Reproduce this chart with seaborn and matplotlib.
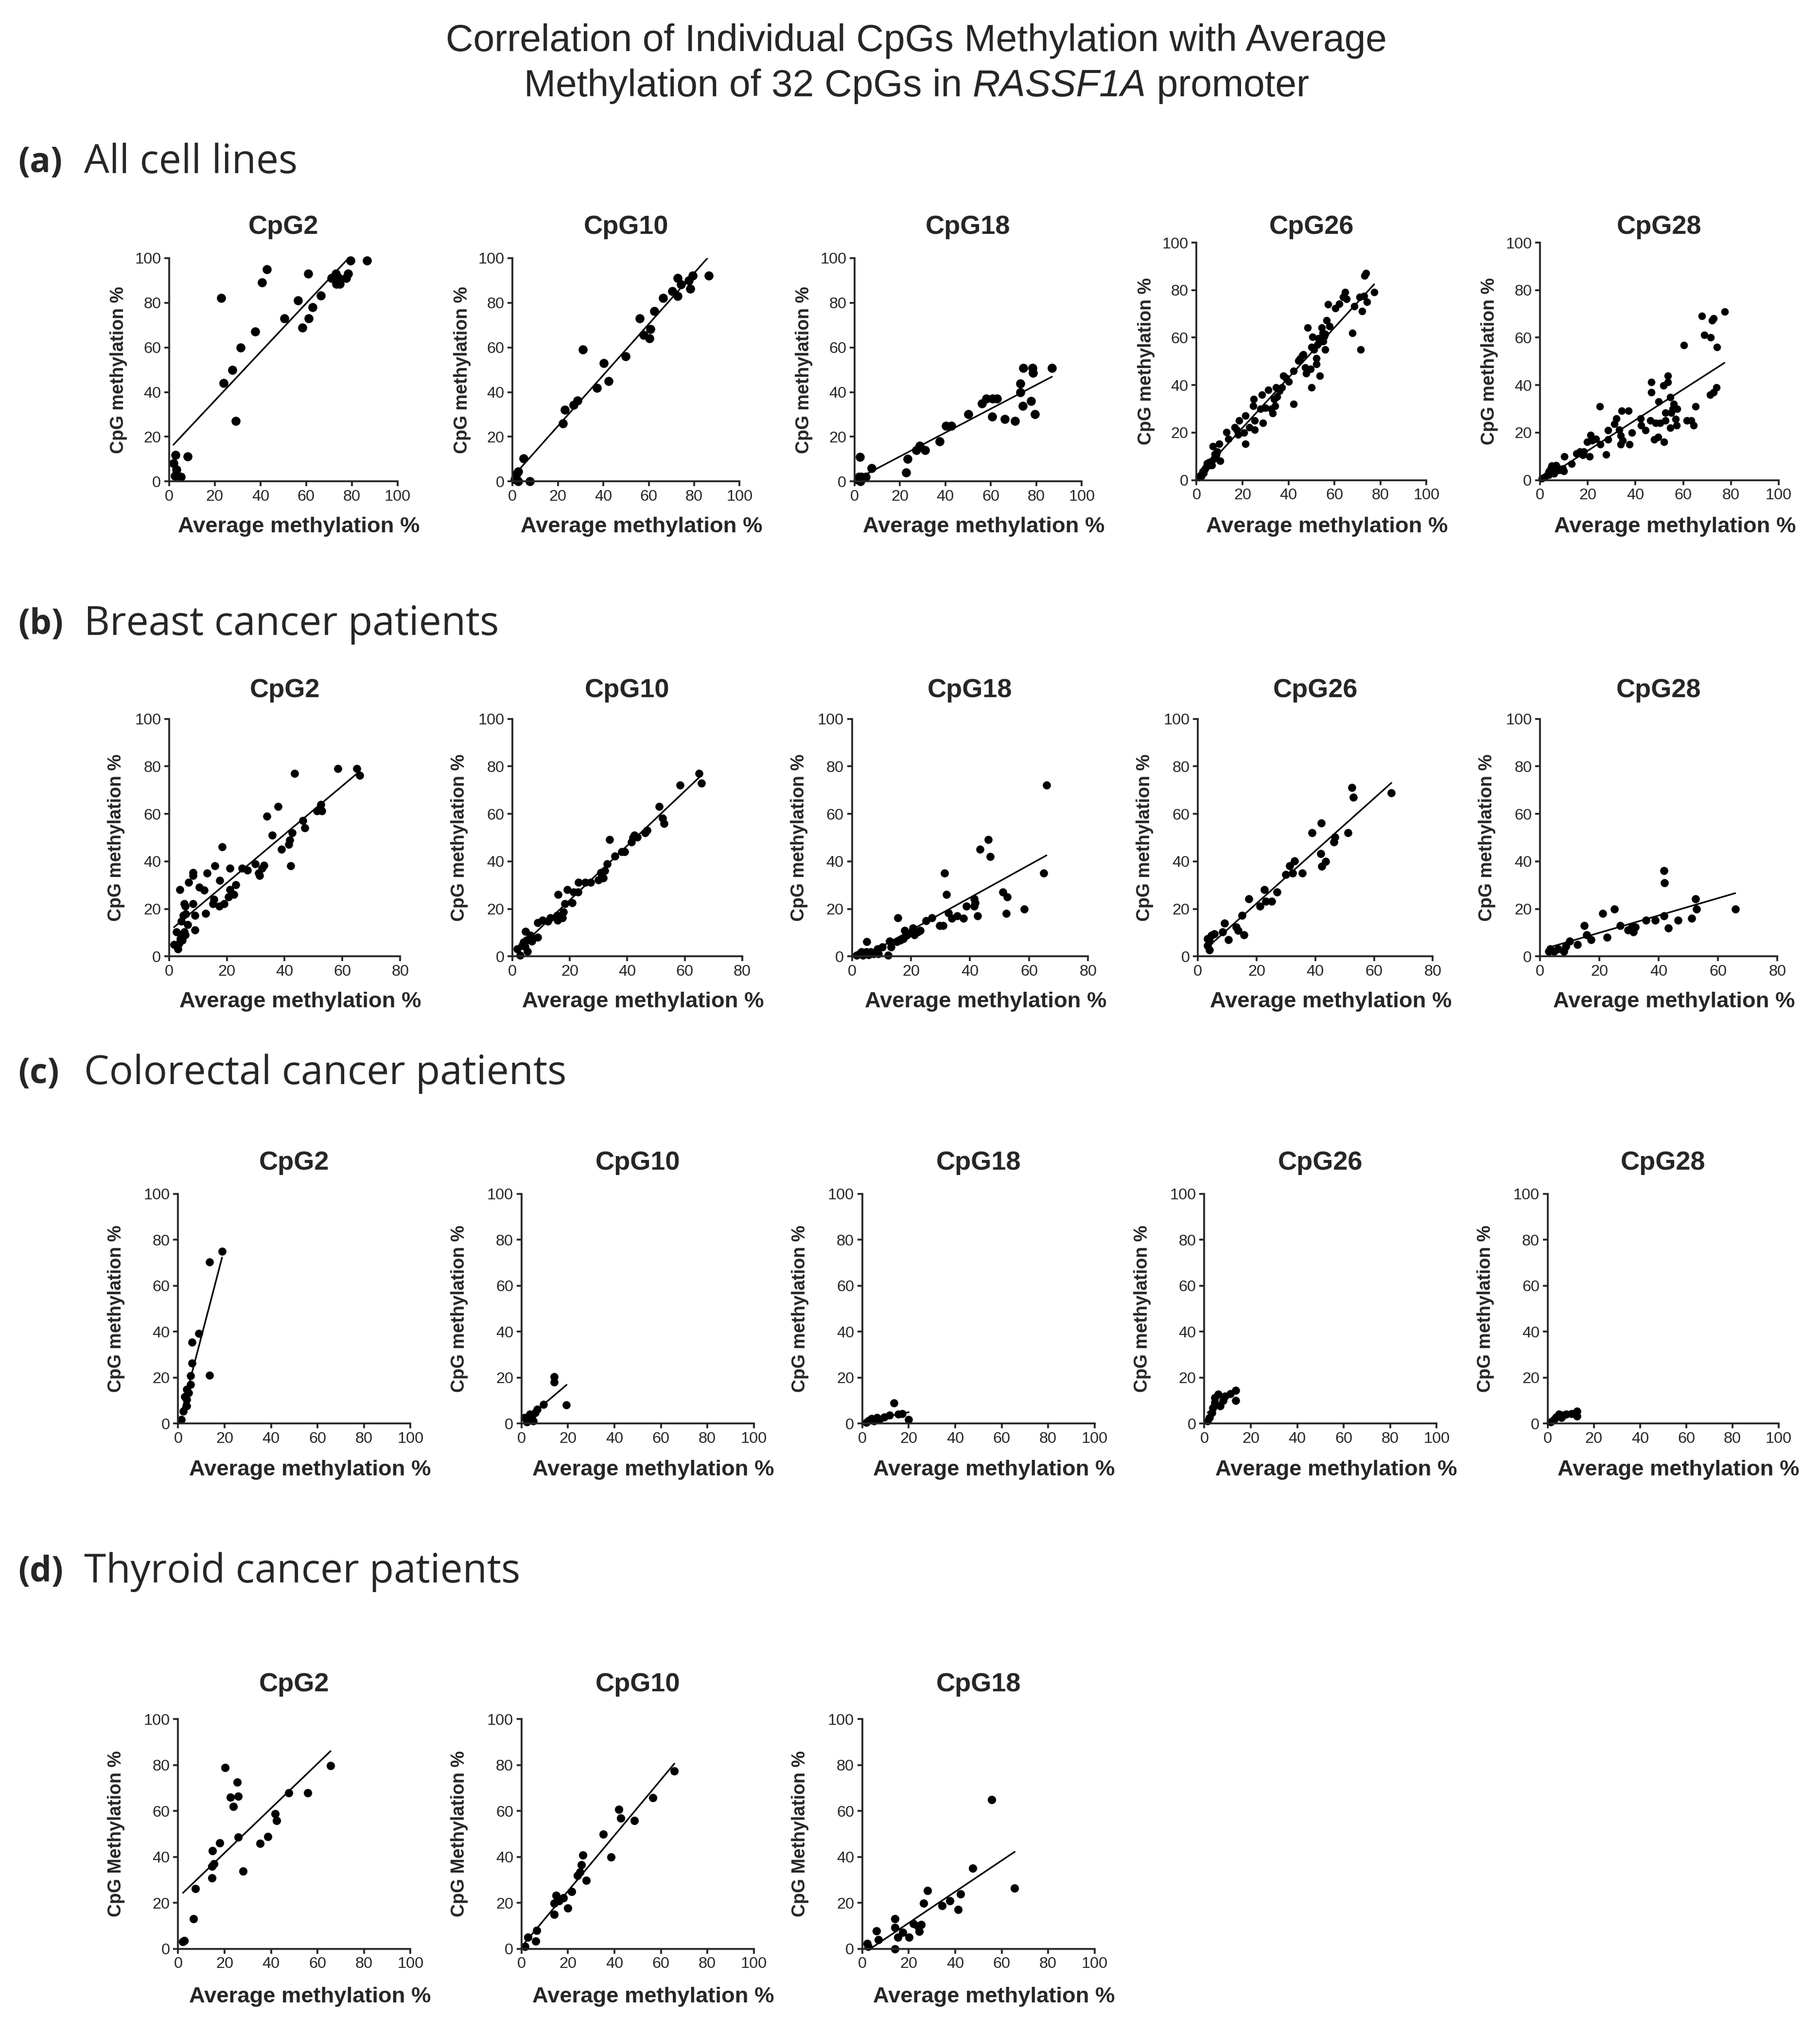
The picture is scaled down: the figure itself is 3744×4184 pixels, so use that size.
import numpy as np
import matplotlib
matplotlib.use("Agg")
import matplotlib.pyplot as plt
import seaborn as sns


# (a) All cell lines
a2_x = [1.9, 2.9, 3.2, 2.5, 5.1, 8.2, 22.9, 23.8, 27.6, 29.1, 31.4, 37.7, 40.6, 42.9, 50.5,
        56.4, 58.3, 60.8, 61.1, 62.9, 66.5, 71.0, 73.0, 73.3, 74.3, 74.7, 77.5, 78.3, 79.4, 86.7]
a2_y = [8.1, 11.9, 5.2, 2.4, 2.1, 11.1, 82.2, 44.0, 50.0, 27.1, 60.0, 67.1, 89.0, 95.0, 73.1,
        81.0, 68.9, 93.0, 73.0, 78.0, 83.2, 91.1, 93.1, 88.4, 91.1, 88.4, 91.1, 93.1, 99.0, 99.0]

a10_x = [1.5, 1.9, 2.5, 2.5, 1.1, 4.8, 7.6, 22.2, 23.1, 27.0, 28.7, 31.0, 37.3, 40.2, 42.4,
         49.9, 56.0, 57.7, 60.4, 60.8, 62.5, 66.2, 70.4, 72.7, 72.7, 74.2, 77.6, 78.2, 79.3, 86.4]
a10_y = [1.9, 3.6, 4.3, 0.0, 1.0, 10.2, 0.0, 26.0, 32.1, 34.3, 36.2, 59.0, 41.9, 53.0, 45.0,
         56.0, 73.1, 65.5, 64.0, 68.1, 76.2, 82.1, 85.2, 91.1, 83.0, 88.3, 90.0, 86.2, 92.1, 92.1]

a18_x = [2.3, 1.5, 2.5, 1.9, 3.1, 4.9, 7.6, 22.8, 23.4, 27.3, 28.8, 31.1, 37.4, 40.2, 42.6, 50.2,
         56.1, 58.0, 60.7, 60.9, 62.8, 66.2, 70.7, 72.9, 73.0, 74.0, 74.3, 77.7, 78.3, 78.5, 79.5, 86.9]
a18_y = [11.0, 0.7, 0.0, 2.1, 2.1, 2.1, 6.0, 3.9, 10.1, 14.0, 16.0, 14.0, 18.0, 24.9, 24.9, 30.0,
         34.8, 37.0, 29.0, 37.0, 37.0, 27.9, 27.0, 43.9, 39.8, 33.8, 50.8, 35.9, 50.8, 48.7, 30.0, 50.8]

a26_x = [1.0, 1.5, 2.0, 2.3, 2.7, 3.0, 3.5, 3.8, 4.2, 4.5, 5.0, 5.5, 6.0, 6.5, 6.7, 7.0, 7.5, 8.0,
         8.5, 9.0, 9.9, 10.3, 13.0, 13.9, 16.7, 18.1, 18.6, 17.5, 21.2, 20.7, 21.3, 23.0, 25.3, 25.3,
         24.6, 24.9, 27.9, 28.8, 28.4, 31.3, 32.4, 33.1, 34.2, 33.8, 35.1, 34.6, 37.1, 37.7, 38.9,
         42.3, 42.3, 44.3, 46.5, 48.3, 47.2, 47.8, 49.6, 50.0, 50.0, 50.5, 52.2, 52.2, 53.6, 53.0,
         54.5, 55.2, 55.9, 56.7, 57.8, 54.9, 57.2, 60.4, 62.1, 63.8, 64.6, 65.2, 67.9, 68.6, 71.0,
         71.5, 72.0, 73.0, 73.7, 74.1, 72.8, 77.3, 45.0, 46.0, 51.0, 52.5, 53.5, 55.5, 56.0, 40.0,
         36.0, 30.0]
a26_y = [1.2, 2.0, 1.5, 2.1, 3.5, 3.0, 4.5, 4.9, 5.5, 7.0, 6.0, 7.5, 6.5, 8.0, 6.3, 14.3, 9.0, 11.0,
         10.5, 12.0, 15.3, 8.2, 20.1, 17.4, 22.3, 19.2, 25.1, 21.3, 27.2, 19.9, 15.2, 22.3, 21.3, 25.1,
         31.2, 34.1, 30.1, 24.0, 36.0, 38.0, 30.1, 28.2, 31.2, 34.1, 35.1, 39.0, 39.0, 44.0, 43.2,
         46.0, 32.1, 50.2, 53.0, 64.1, 47.4, 44.9, 46.8, 39.0, 56.1, 60.3, 51.2, 48.9, 44.0, 59.6,
         64.1, 58.5, 55.0, 67.2, 64.8, 62.0, 74.0, 72.3, 74.2, 77.0, 79.2, 76.2, 62.0, 73.2, 77.0,
         55.0, 71.1, 86.1, 87.1, 75.0, 77.4, 79.1, 51.0, 52.5, 55.0, 57.0, 58.0, 60.5, 61.5, 41.5,
         37.5, 30.5]

a28_x = [0.9, 2.0, 3.0, 3.8, 4.5, 5.6, 6.7, 7.4, 8.1, 9.6, 10.0, 3.8, 6.0, 4.9,
         10.2, 13.2, 15.4, 16.8, 17.9, 18.3, 20.8, 19.8, 21.2, 21.9, 23.4, 25.2, 25.0, 27.7, 28.5,
         28.5, 31.2, 32.1, 33.2, 33.9, 34.6, 33.9, 34.3, 37.0, 37.5, 38.6, 42.1, 42.3, 44.3, 46.6,
         46.6, 46.3, 47.9, 49.5, 48.4, 49.8, 50.3, 51.9, 51.7, 53.5, 53.5, 52.5, 52.5, 54.6, 54.6,
         55.0, 55.7, 56.1, 56.8, 57.5, 57.2, 60.3, 61.5, 63.3, 64.4, 65.1, 67.8, 68.8, 71.5, 72.1,
         72.8, 71.3, 72.8, 73.9, 74.1, 77.3]
a28_y = [0.7, 1.4, 2.1, 3.5, 4.9, 3.8, 6.3, 5.2, 4.2, 4.9, 3.8, 2.1, 2.8, 6.0,
         9.9, 6.8, 11.2, 11.9, 10.5, 11.9, 9.9, 16.0, 19.0, 16.7, 17.4, 15.0, 31.1, 10.8, 17.1,
         21.1, 23.7, 26.0, 21.3, 18.8, 16.7, 15.0, 29.1, 29.1, 15.0, 19.9, 26.0, 23.0, 21.1, 41.2,
         37.0, 25.1, 17.1, 18.1, 24.1, 33.1, 24.1, 16.0, 39.8, 41.2, 44.0, 25.1, 28.3, 34.9, 22.0,
         28.3, 30.0, 32.1, 25.8, 30.0, 23.0, 56.9, 25.1, 25.1, 23.0, 31.1, 69.1, 61.1, 60.0, 67.3,
         68.0, 35.9, 37.0, 39.1, 56.0, 71.0]

# (b) Breast cancer patients
b2_x = [1.7, 3.1, 2.6, 3.4, 3.9, 4.8, 5.3, 5.6, 4.5, 4.2, 4.9, 5.8, 6.4, 5.6, 5.3, 3.7, 8.3, 8.9,
        8.9, 6.7, 8.3, 8.3, 10.4, 12.1, 12.7, 13.2, 15.1, 15.5, 15.8, 17.3, 17.5, 18.3, 19.0, 20.6,
        21.1, 21.1, 22.4, 23.1, 25.2, 27.2, 29.9, 31.0, 31.4, 32.1, 32.8, 33.9, 35.7, 37.8, 38.9,
        41.5, 41.8, 42.1, 42.6, 43.4, 46.3, 47.0, 51.2, 52.5, 52.8, 58.5, 65.0, 66.0]
b2_y = [4.9, 3.2, 10.2, 5.3, 7.4, 9.5, 10.2, 9.1, 6.7, 14.8, 17.2, 17.9, 13.4, 21.1, 22.2, 28.1,
        22.2, 17.2, 11.0, 31.1, 35.2, 34.1, 29.2, 27.9, 18.1, 35.0, 22.2, 23.9, 38.1, 21.1, 32.0,
        46.1, 22.2, 25.0, 28.1, 37.1, 26.0, 30.1, 37.1, 36.2, 39.0, 35.0, 34.1, 37.1, 38.3, 59.1,
        51.1, 63.1, 45.1, 47.1, 49.0, 38.1, 52.0, 77.1, 57.2, 54.1, 61.2, 64.0, 61.2, 79.1, 79.1, 76.1]

b10_x = [1.6, 2.7, 3.3, 3.8, 4.4, 5.2, 4.9, 4.6, 6.3, 6.8, 8.7, 8.7, 10.4, 12.3, 13.1, 15.5, 15.7,
         15.8, 17.4, 17.7, 18.3, 19.1, 20.8, 21.3, 22.9, 23.0, 25.3, 27.2, 29.9, 30.8, 31.6, 32.2,
         32.9, 33.8, 35.7, 38.0, 39.0, 41.4, 41.9, 42.5, 43.5, 46.2, 46.9, 51.1, 52.3, 52.7, 58.3,
         65.0, 65.8]
b10_y = [3.2, 0.4, 4.6, 6.0, 4.2, 2.1, 6.7, 10.5, 8.8, 6.3, 8.1, 14.1, 15.1, 14.8, 16.2, 17.2, 15.1,
         26.0, 16.2, 18.6, 22.2, 28.1, 22.5, 27.1, 27.1, 31.1, 31.1, 31.1, 32.1, 35.2, 33.1, 36.1,
         39.0, 49.2, 42.2, 44.1, 44.1, 48.2, 49.9, 51.1, 50.3, 52.0, 53.1, 63.1, 58.2, 56.0, 72.1,
         77.0, 73.0]

b18_x = [1.5, 2.6, 3.2, 3.7, 4.8, 5.6, 6.4, 7.3, 5.1, 8.6, 8.9, 10.3, 12.2, 12.7, 13.3, 15.2, 15.5,
         16.3, 17.4, 17.8, 18.5, 19.6, 20.7, 21.2, 22.3, 23.1, 25.1, 27.0, 29.7, 30.8, 31.3, 32.1,
         32.7, 33.8, 35.7, 37.7, 38.8, 41.4, 41.4, 41.7, 42.6, 43.4, 46.2, 46.9, 51.1, 52.6, 52.3,
         58.4, 65.0, 65.9]
b18_y = [0.4, 1.1, 1.8, 0.4, 1.8, 0.7, 1.8, 1.1, 6.1, 3.2, 1.1, 4.0, 0.4, 6.3, 4.0, 6.1, 16.2,
         6.7, 7.4, 10.9, 8.8, 9.8, 12.0, 9.1, 10.2, 10.9, 15.0, 16.2, 13.0, 13.0, 35.0, 26.0,
         18.3, 16.0, 17.1, 16.0, 21.1, 24.1, 21.1, 22.5, 17.1, 45.0, 49.1, 42.0, 27.1, 25.1, 18.1,
         20.0, 35.0, 72.1]

b26_x = [3.3, 3.3, 3.9, 4.6, 5.6, 3.9, 8.5, 9.1, 10.4, 13.1, 13.7, 15.0, 15.7, 17.4, 21.1, 22.6,
         23.1, 25.2, 27.0, 30.0, 31.3, 32.2, 32.9, 35.6, 38.8, 41.8, 42.1, 42.2, 43.5, 46.3, 46.7,
         51.2, 52.5, 52.9, 65.9]
b26_y = [7.4, 4.6, 2.8, 8.8, 9.5, 6.3, 10.2, 14.0, 7.0, 12.3, 10.9, 17.2, 9.1, 24.2, 21.1, 28.1,
         23.2, 23.2, 27.0, 34.4, 38.2, 35.1, 40.2, 35.1, 52.1, 43.2, 56.1, 37.9, 40.0, 48.1, 50.3,
         52.1, 71.0, 67.0, 68.9]

b28_x = [2.9, 3.5, 4.8, 6.1, 8.1, 8.7, 10.0, 12.7, 15.0, 15.7, 17.2, 21.1, 22.7, 25.1, 27.0, 29.6,
         30.9, 31.5, 32.2, 35.8, 38.8, 41.8, 41.8, 42.0, 43.3, 46.6, 51.2, 52.5, 52.7, 65.8]
b28_y = [2.1, 3.2, 2.1, 3.2, 2.1, 4.2, 6.3, 4.9, 13.0, 9.1, 7.0, 18.0, 8.1, 20.0, 13.0, 11.2,
         12.3, 10.2, 12.3, 15.1, 15.1, 17.1, 36.0, 31.0, 11.9, 15.1, 16.1, 24.2, 20.0, 20.0]

# (c) Colorectal cancer patients
c2_x = [1.4, 2.3, 2.8, 3.6, 3.6, 3.6, 4.5, 5.4, 5.4, 5.9, 5.9, 9.0, 13.5, 13.5, 18.9]
c2_y = [1.8, 5.4, 11.8, 7.6, 10.5, 14.9, 13.4, 17.0, 20.7, 26.4, 35.5, 39.1, 21.0, 70.3, 75.0]

c10_x = [1.4, 2.3, 3.6, 3.6, 4.5, 5.0, 5.9, 6.8, 9.5, 14.0, 14.0, 19.4]
c10_y = [2.5, 0.7, 1.8, 4.0, 3.3, 1.1, 4.7, 6.2, 8.3, 18.1, 20.3, 8.0]

c18_x = [1.8, 2.7, 4.1, 5.0, 6.4, 7.3, 9.5, 11.8, 13.6, 15.5, 17.3, 20.0]
c18_y = [0.4, 1.4, 2.2, 1.1, 2.5, 1.8, 2.9, 3.6, 9.0, 4.0, 4.3, 1.8]

c26_x = [1.4, 2.3, 3.2, 3.6, 4.5, 4.5, 5.9, 6.8, 8.1, 9.0, 11.3, 13.5, 13.5]
c26_y = [1.1, 2.5, 4.7, 6.9, 9.1, 11.2, 12.7, 7.6, 10.1, 11.9, 13.0, 14.5, 10.1]

c28_x = [1.4, 2.7, 3.6, 5.0, 5.9, 6.8, 8.1, 10.4, 12.6, 12.6]
c28_y = [0.7, 1.8, 2.9, 4.0, 2.5, 3.6, 4.0, 4.3, 5.4, 3.3]

# (d) Thyroid cancer patients
d2_x = [2.1, 2.6, 6.6, 7.4, 14.6, 14.6, 15.3, 14.8, 18.0, 20.1, 22.5, 23.8, 25.4, 25.9, 25.9, 28.0,
        35.2, 38.6, 41.8, 42.3, 47.6, 55.8, 65.6]
d2_y = [3.1, 3.6, 13.0, 26.1, 30.9, 36.0, 37.0, 42.8, 46.0, 78.8, 65.9, 62.0, 72.5, 66.3, 48.6, 33.8,
        45.9, 48.9, 58.7, 55.8, 67.9, 67.9, 79.7]

d10_x = [1.6, 2.7, 6.1, 6.6, 14.1, 14.1, 14.9, 16.2, 18.0, 19.9, 21.5, 24.1, 25.2, 25.7, 26.5, 27.9,
         35.3, 38.5, 41.9, 42.7, 48.5, 56.5, 65.8]
d10_y = [1.1, 5.1, 3.3, 8.0, 14.9, 19.9, 23.2, 21.0, 22.1, 17.8, 25.0, 31.9, 33.3, 36.6, 40.9, 29.7,
         49.8, 39.9, 60.7, 56.9, 55.8, 65.8, 77.5]

d18_x = [2.1, 2.6, 6.1, 6.9, 14.0, 14.0, 14.0, 15.3, 17.5, 20.1, 22.0, 23.8, 24.6, 25.4, 26.5, 28.0,
         34.4, 37.8, 41.3, 42.3, 47.6, 55.8, 65.6]
d18_y = [2.2, 1.1, 7.8, 4.0, 13.0, 9.2, 0.0, 5.1, 7.2, 5.1, 10.9, 9.8, 7.6, 10.5, 19.9, 25.4,
         18.8, 21.0, 17.0, 23.9, 35.0, 64.9, 26.4]


# layout is measured on a 1410 x 1576 grid of the reference
W_PX, H_PX = 1410, 1576


def fx(px):
    return px / W_PX


def fy(py):
    return 1 - py / H_PX


rows = [
    {"tag": "(a)", "name": "All cell lines", "head_y": 126, "title_y": 176, "xlab_y": 408,
     "ylab": "CpG methylation %", "ylab_off": 39,
     "panels": [("CpG2", a2_x, a2_y, 131, 200, 373, 308, 100, 20),
                ("CpG10", a10_x, a10_y, 397, 200, 373, 573, 100, 20),
                ("CpG18", a18_x, a18_y, 662, 200, 373, 838, 100, 20),
                ("CpG26", a26_x, a26_y, 927, 188, 372, 1105, 100, 14),
                ("CpG28", a28_x, a28_y, 1193, 188, 372, 1378, 100, 14)]},
    {"tag": "(b)", "name": "Breast cancer patients", "head_y": 484, "title_y": 535, "xlab_y": 776,
     "ylab": "CpG methylation %", "ylab_off": 41,
     "panels": [("CpG2", b2_x, b2_y, 131, 557, 741, 310, 80, 16),
                ("CpG10", b10_x, b10_y, 397, 557, 741, 575, 80, 16),
                ("CpG18", b18_x, b18_y, 660, 557, 741, 843, 80, 16),
                ("CpG26", b26_x, b26_y, 928, 557, 741, 1110, 80, 16),
                ("CpG28", b28_x, b28_y, 1193, 557, 741, 1377, 80, 16)]},
    {"tag": "(c)", "name": "Colorectal cancer patients", "head_y": 832, "title_y": 901, "xlab_y": 1139,
     "ylab": "CpG methylation %", "ylab_off": 48,
     "panels": [("CpG2", c2_x, c2_y, 138, 925, 1103, 318, 100, 16),
                ("CpG10", c10_x, c10_y, 404, 925, 1103, 584, 100, 16),
                ("CpG18", c18_x, c18_y, 668, 925, 1103, 848, 100, 16),
                ("CpG26", c26_x, c26_y, 933, 925, 1103, 1113, 100, 16),
                ("CpG28", c28_x, c28_y, 1199, 925, 1103, 1378, 100, 16)]},
    {"tag": "(d)", "name": "Thyroid cancer patients", "head_y": 1218, "title_y": 1305, "xlab_y": 1547,
     "ylab": "CpG Methylation %", "ylab_off": 48,
     "panels": [("CpG2", d2_x, d2_y, 138, 1332, 1510, 318, 100, 17),
                ("CpG10", d10_x, d10_y, 404, 1332, 1510, 584, 100, 17),
                ("CpG18", d18_x, d18_y, 668, 1332, 1510, 848, 100, 17)]},
]

sns.set_style("ticks")
plt.rcParams['font.family'] = ['Liberation Sans', 'DejaVu Sans']

fig = plt.figure(figsize=(12.48, 13.9467), dpi=300)
renderer = fig.canvas.get_renderer()
fig_w = fig.get_figwidth() * fig.dpi

fig.text(fx(710), fy(32), "Correlation of Individual CpGs Methylation with Average",
         ha='center', va='center', fontsize=18.8)

# second title line, gene name in italics
parts = [("Methylation of 32 CpGs in ", "normal"), ("RASSF1A", "italic"), (" promoter", "normal")]
pieces = [fig.text(0, fy(67), s, style=st, ha='left', va='center', fontsize=18.8) for s, st in parts]
widths = [p.get_window_extent(renderer).width for p in pieces]
x = fx(710) - sum(widths) / 2 / fig_w
for p, w in zip(pieces, widths):
    p.set_x(x)
    x += w / fig_w

for row in rows:
    fig.text(fx(14), fy(row["head_y"]), row["tag"], ha='left', va='center',
             fontsize=17, fontweight='bold', family=['Open Sans', 'DejaVu Sans'])
    fig.text(fx(65), fy(row["head_y"]), row["name"], ha='left', va='center',
             fontsize=19.7, family=['Open Sans', 'DejaVu Sans'])

    for name, xs, ys, left, top, bottom, right, xmax, msize in row["panels"]:
        ax = fig.add_axes([fx(left), fy(bottom), (right - left) / W_PX, (bottom - top) / H_PX])
        sns.regplot(x=np.array(xs), y=np.array(ys), ax=ax, ci=None, truncate=True, color='black',
                    scatter_kws={'s': msize, 'linewidths': 0, 'alpha': 1, 'clip_on': False},
                    line_kws={'linewidth': 0.8, 'color': 'black'})
        ax.set_xlim(0, xmax)
        ax.set_ylim(0, 100)
        ax.set_xticks(np.arange(0, xmax + 1, 20))
        ax.set_yticks(np.arange(0, 101, 20))
        ax.set_xlabel('')
        ax.set_ylabel('')
        sns.despine(ax=ax)
        for side in ['left', 'bottom']:
            ax.spines[side].set_linewidth(0.9)
        ax.tick_params(labelsize=7.8, length=2.5, width=0.9, pad=1.5)

        cx = (left + right) / 2
        fig.text(fx(cx), fy(row["title_y"]), name, ha='center', va='center',
                 fontsize=13, fontweight='bold')
        fig.text(fx(cx + 12), fy(row["xlab_y"]), "Average methylation %", ha='center', va='center',
                 fontsize=10.9, fontweight='bold')
        fig.text(fx(left - row["ylab_off"]), fy((top + bottom) / 2), row["ylab"], ha='center',
                 va='center', rotation=90, fontsize=9, fontweight='bold')

fig.savefig("out.png", dpi=300, facecolor='white')
